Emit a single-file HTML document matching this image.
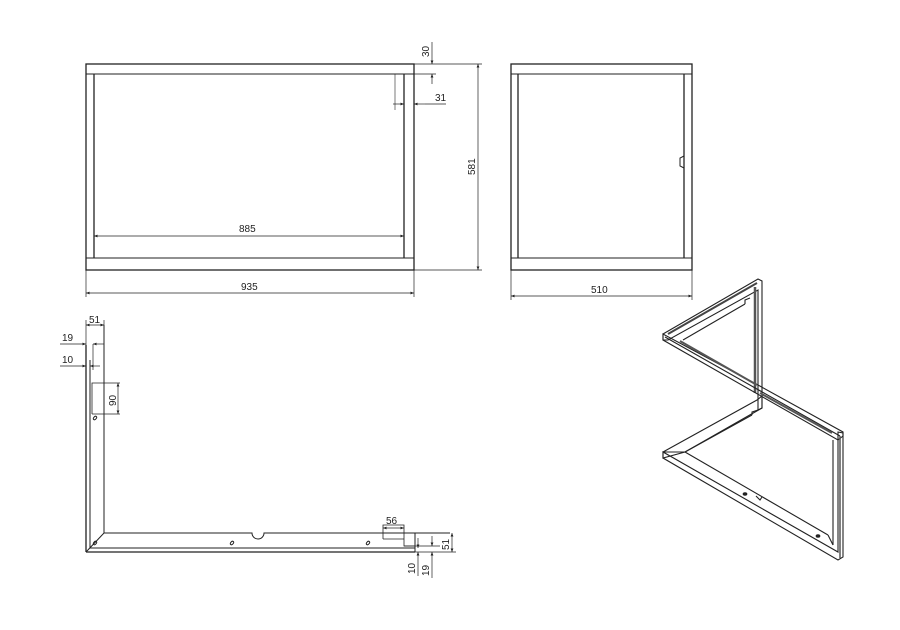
<!DOCTYPE html>
<html><head><meta charset="utf-8"><style>
html,body{margin:0;padding:0;background:#fff;}
svg{display:block;}
text{font-family:"Liberation Sans",sans-serif;font-size:10px;fill:#222;}
</style></head><body>
<svg width="900" height="630" viewBox="0 0 900 630" xmlns="http://www.w3.org/2000/svg">
<defs>
<marker id="a" markerWidth="6" markerHeight="6" refX="5" refY="3" orient="auto-start-reverse"><path d="M0,1 L5,3 L0,5 Z" fill="#222"/></marker>
</defs>
<g stroke="#222" fill="none" stroke-width="1">
<!-- front view -->
<rect x="86" y="64" width="328" height="206" stroke-width="1.3"/>
<line x1="86" y1="74" x2="414" y2="74"/>
<line x1="86" y1="258" x2="414" y2="258"/>
<line x1="94" y1="74" x2="94" y2="258" stroke-width="1.3"/>
<line x1="404" y1="74" x2="404" y2="258" stroke-width="1.3"/>
<line x1="395" y1="74" x2="395" y2="110" stroke-width="0.6"/>
<line x1="94" y1="236" x2="404" y2="236" stroke-width="0.7" marker-start="url(#a)" marker-end="url(#a)"/>
<line x1="86" y1="270" x2="86" y2="297" stroke-width="0.7"/>
<line x1="414" y1="270" x2="414" y2="297" stroke-width="0.7"/>
<line x1="86" y1="293" x2="414" y2="293" stroke-width="0.7" marker-start="url(#a)" marker-end="url(#a)"/>
<line x1="414" y1="64" x2="482" y2="64" stroke-width="0.7"/>
<line x1="414" y1="270" x2="482" y2="270" stroke-width="0.7"/>
<line x1="478" y1="64" x2="478" y2="270" stroke-width="0.7" marker-start="url(#a)" marker-end="url(#a)"/>
<line x1="414" y1="74" x2="436" y2="74" stroke-width="0.7"/>
<line x1="432" y1="42" x2="432" y2="64" stroke-width="0.7" marker-end="url(#a)"/>
<line x1="432" y1="84" x2="432" y2="74" stroke-width="0.7" marker-end="url(#a)"/>
<line x1="393" y1="104" x2="404" y2="104" stroke-width="0.7" marker-end="url(#a)"/>
<line x1="425" y1="104" x2="414" y2="104" stroke-width="0.7" marker-end="url(#a)"/>
<line x1="425" y1="104" x2="446" y2="104" stroke-width="0.7"/>
<!-- side view -->
<rect x="511" y="64" width="181" height="206" stroke-width="1.3"/>
<line x1="511" y1="74" x2="692" y2="74"/>
<line x1="511" y1="258" x2="692" y2="258"/>
<line x1="518" y1="74" x2="518" y2="258" stroke-width="1.3"/>
<line x1="684" y1="74" x2="684" y2="258" stroke-width="1.3"/>
<path d="M684,156 L680,158 L680,166 L684,168"/>
<line x1="511" y1="270" x2="511" y2="300" stroke-width="0.7"/>
<line x1="692" y1="270" x2="692" y2="300" stroke-width="0.7"/>
<line x1="511" y1="296" x2="692" y2="296" stroke-width="0.7" marker-start="url(#a)" marker-end="url(#a)"/>
<!-- detail -->
<line x1="86" y1="345" x2="86" y2="552" stroke-width="1.3"/>
<line x1="90" y1="360" x2="90" y2="548"/>
<line x1="104" y1="325" x2="104" y2="533"/>
<line x1="86" y1="552" x2="415" y2="552" stroke-width="1.3"/>
<line x1="90" y1="548" x2="415" y2="548"/>
<path d="M104,533 L252,533 A6,6 0 0 0 264,533 L450,533" />
<line x1="415" y1="533" x2="415" y2="552"/>
<line x1="86" y1="552" x2="104" y2="533"/>
<polyline points="383,539 383,525 404,525 404,546 415,546" stroke-width="0.8"/>
<line x1="383" y1="539" x2="404" y2="539" stroke-width="0.8"/>
<polyline points="92,414 92,383 120,383" stroke-width="0.8"/>
<line x1="92" y1="414" x2="120" y2="414" stroke-width="0.8"/>
<line x1="118" y1="383" x2="118" y2="414" stroke-width="0.7" marker-start="url(#a)" marker-end="url(#a)"/>
<ellipse cx="95" cy="418" rx="2" ry="1.3" transform="rotate(-50 95 418)"/>
<ellipse cx="232" cy="543" rx="2" ry="1.3" transform="rotate(-50 232 543)"/>
<ellipse cx="368" cy="543" rx="2" ry="1.3" transform="rotate(-50 368 543)"/>
<ellipse cx="95" cy="543" rx="2" ry="1.3" transform="rotate(-50 95 543)"/>
<line x1="86" y1="320" x2="86" y2="345" stroke-width="0.7"/>
<line x1="104" y1="320" x2="104" y2="330" stroke-width="0.7"/>
<line x1="86" y1="325" x2="104" y2="325" stroke-width="0.7" marker-start="url(#a)" marker-end="url(#a)"/>
<line x1="93" y1="344" x2="93" y2="370" stroke-width="0.7"/>
<line x1="60" y1="344" x2="86" y2="344" stroke-width="0.7" marker-end="url(#a)"/>
<line x1="104" y1="344" x2="93" y2="344" stroke-width="0.7" marker-end="url(#a)"/>
<line x1="60" y1="366" x2="86" y2="366" stroke-width="0.7" marker-end="url(#a)"/>
<line x1="100" y1="366" x2="90" y2="366" stroke-width="0.7" marker-end="url(#a)"/>
<line x1="383" y1="528" x2="404" y2="528" stroke-width="0.7" marker-start="url(#a)" marker-end="url(#a)"/>
<line x1="415" y1="552" x2="456" y2="552" stroke-width="0.7"/>
<line x1="404" y1="546" x2="440" y2="546" stroke-width="0.7"/>
<line x1="452" y1="533" x2="452" y2="552" stroke-width="0.7" marker-start="url(#a)" marker-end="url(#a)"/>
<line x1="418" y1="538" x2="418" y2="548" stroke-width="0.7" marker-end="url(#a)"/>
<line x1="418" y1="576" x2="418" y2="552" stroke-width="0.7" marker-end="url(#a)"/>
<line x1="432" y1="536" x2="432" y2="546" stroke-width="0.7" marker-end="url(#a)"/>
<line x1="432" y1="578" x2="432" y2="552" stroke-width="0.7" marker-end="url(#a)"/>
<!-- isometric -->
<g stroke-width="1.1">
<!-- top frame upper band -->
<polygon points="663,334 758,279 762,281 762,408 758,410 758,290 668,340 663,340"/>
<line x1="755" y1="287" x2="755" y2="393" stroke="#555" stroke-width="2.5"/>
<line x1="668" y1="334" x2="757" y2="283" stroke="#444" stroke-width="2"/>
<!-- long band -->
<polygon points="663,334 663,340 838,440 843,436 843,432 758,385"/>
<line x1="665" y1="337" x2="840" y2="436"/>
<line x1="680" y1="341" x2="757" y2="385" stroke="#555" stroke-width="2"/>
<line x1="760" y1="393" x2="832" y2="433" stroke="#555" stroke-width="2"/>
<!-- inner triangle top -->
<line x1="683" y1="340" x2="745" y2="304"/>
<path d="M745,304 L745,300 L750,298"/>
<!-- bottom frame -->
<polygon points="663,452 757,400 762,396 762,408 685,452 663,458"/>
<line x1="663" y1="452" x2="685" y2="452"/>
<polygon points="663,452 663,458 838,560 843,557 843,433 838,432 838,552"/>
<line x1="685" y1="452" x2="828" y2="535"/>
<line x1="833" y1="440" x2="833" y2="545"/>
<line x1="828" y1="535" x2="833" y2="545"/>
<line x1="685" y1="452" x2="752" y2="415"/>
<path d="M752,415 L752,412 L758,410"/>
<line x1="840" y1="436" x2="840" y2="558" stroke="#555" stroke-width="1.5"/>
<ellipse cx="745" cy="494" rx="1.8" ry="1.2" fill="#222"/>
<ellipse cx="818" cy="536" rx="1.8" ry="1.2" fill="#222"/>
<path d="M756,496 L760,500 L762,497"/>
</g>
</g>
<text x="239" y="232">885</text>
<text x="241" y="290">935</text>
<text x="591" y="293">510</text>
<text x="435" y="101">31</text>
<text transform="translate(475,175) rotate(-90)">581</text>
<text transform="translate(429,57) rotate(-90)">30</text>
<text x="89" y="323">51</text>
<text x="62" y="341">19</text>
<text x="62" y="363">10</text>
<text transform="translate(116,406) rotate(-90)">90</text>
<text x="386" y="524">56</text>
<text transform="translate(449,550) rotate(-90)">51</text>
<text transform="translate(415,574) rotate(-90)">10</text>
<text transform="translate(429,576) rotate(-90)">19</text>
</svg>
</body></html>
